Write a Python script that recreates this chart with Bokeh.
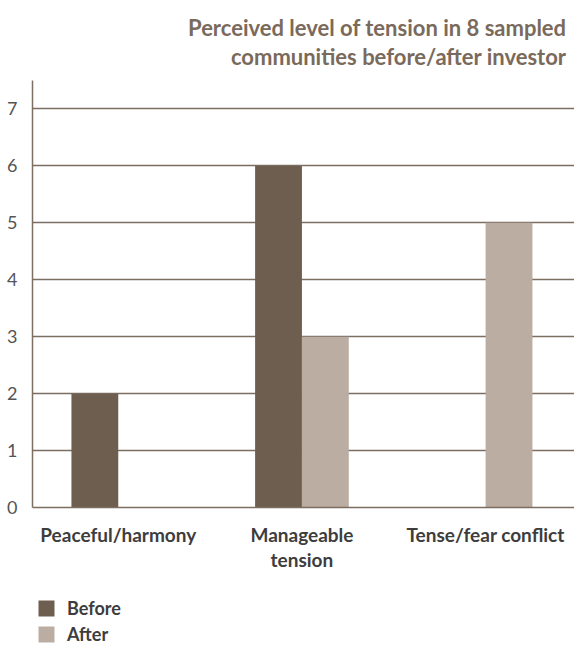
from bokeh.plotting import figure
from bokeh.layouts import column
from bokeh.models import Range1d, FixedTicker, Legend, LegendItem, Title, ColumnDataSource
from bokeh.transform import dodge
from bokeh.embed import file_html
from bokeh.resources import INLINE

categories = ["Peaceful/harmony", "Manageable\ntension", "Tense/fear conflict"]
before = [2, 6, 0]
after = [0, 3, 5]
y_ticks = [0, 1, 2, 3, 4, 5, 6, 7]
series = ["Before", "After"]
title_lines = ["Perceived level of tension in 8 sampled",
               "communities before/after investor"]

FONT = "Lato"
C_BEFORE = "#6e5e4f"
C_AFTER = "#bbada2"
C_GRID = "#7d6e62"
C_TITLE = "#7a6a5c"
C_LABEL = "#3d3d3d"

xs = list(range(len(categories)))
src = ColumnDataSource(dict(x=xs, before=before, after=after))
bw = 0.255

p = figure(width=574, height=580, output_backend="svg", toolbar_location=None,
           x_range=Range1d(-0.467, 2.484), y_range=Range1d(0, 7.5),
           min_border_left=32, min_border_right=0, min_border_top=80,
           min_border_bottom=73)
p.outline_line_color = None
p.background_fill_color = "white"
p.border_fill_color = "white"

p.vbar(x=dodge("x", -bw / 2, range=p.x_range), top="before", width=bw,
       source=src, fill_color=C_BEFORE, line_color=None)
p.vbar(x=dodge("x", bw / 2, range=p.x_range), top="after", width=bw,
       source=src, fill_color=C_AFTER, line_color=None)

# Grid
p.xgrid.grid_line_color = None
p.ygrid.ticker = FixedTicker(ticks=y_ticks)
p.ygrid.grid_line_color = C_GRID
p.ygrid.grid_line_width = 1.5

# Y axis
p.yaxis.ticker = FixedTicker(ticks=y_ticks)
p.yaxis.major_tick_line_color = None
p.yaxis.minor_tick_line_color = None
p.yaxis.axis_line_color = C_GRID
p.yaxis.axis_line_width = 1.5
p.yaxis.major_label_text_font = FONT
p.yaxis.major_label_text_font_size = "18px"
p.yaxis.major_label_text_color = "#555555"
p.yaxis.major_label_standoff = 9

# X axis
p.xaxis.ticker = FixedTicker(ticks=xs)
p.xaxis.major_label_overrides = {i: c for i, c in zip(xs, categories)}
p.xaxis.major_tick_line_color = None
p.xaxis.minor_tick_line_color = None
p.xaxis.axis_line_color = C_GRID
p.xaxis.axis_line_width = 1.5
p.xaxis.major_label_text_font = FONT
p.xaxis.major_label_text_font_size = "19px"
p.xaxis.major_label_text_font_style = "bold"
p.xaxis.major_label_text_color = C_LABEL
p.xaxis.major_label_text_line_height = 1.1
p.xaxis.major_label_standoff = 9

# Title: two right-aligned lines (line 2 added first, it sits next to the plot)
t2 = Title(text=title_lines[1], align="right", text_font=FONT, text_font_size="22px",
           text_font_style="bold", text_color=C_TITLE, standoff=21, offset=8)
t1 = Title(text=title_lines[0], align="right", text_font=FONT, text_font_size="22px",
           text_font_style="bold", text_color=C_TITLE, standoff=-20, offset=8)
p.add_layout(t2, "above")
p.add_layout(t1, "above")

# Legend strip below the chart (its bars lie far below the strip's visible range)
leg = figure(width=574, height=66, output_backend="svg", toolbar_location=None,
             x_axis_type=None, y_axis_type=None,
             x_range=Range1d(-0.467, 2.484), y_range=Range1d(100, 101),
             min_border_left=0, min_border_right=0, min_border_top=0,
             min_border_bottom=0)
leg.outline_line_color = None
leg.grid.grid_line_color = None
g1 = leg.vbar(x="x", top="before", width=bw, source=src, fill_color=C_BEFORE, line_color=None)
g2 = leg.vbar(x="x", top="after", width=bw, source=src, fill_color=C_AFTER, line_color=None)
legend = Legend(items=[LegendItem(label=series[0], renderers=[g1]),
                       LegendItem(label=series[1], renderers=[g2])],
                location=(4, -1), orientation="vertical",
                glyph_width=20, glyph_height=20, label_height=26, spacing=0,
                padding=0, margin=0, label_standoff=11,
                label_text_font=FONT, label_text_font_size="18px",
                label_text_font_style="bold", label_text_color=C_LABEL,
                border_line_color=None, background_fill_alpha=0)
leg.add_layout(legend, "center")

layout = column(p, leg, spacing=0)
open("out.html", "w").write(file_html(layout, INLINE))
